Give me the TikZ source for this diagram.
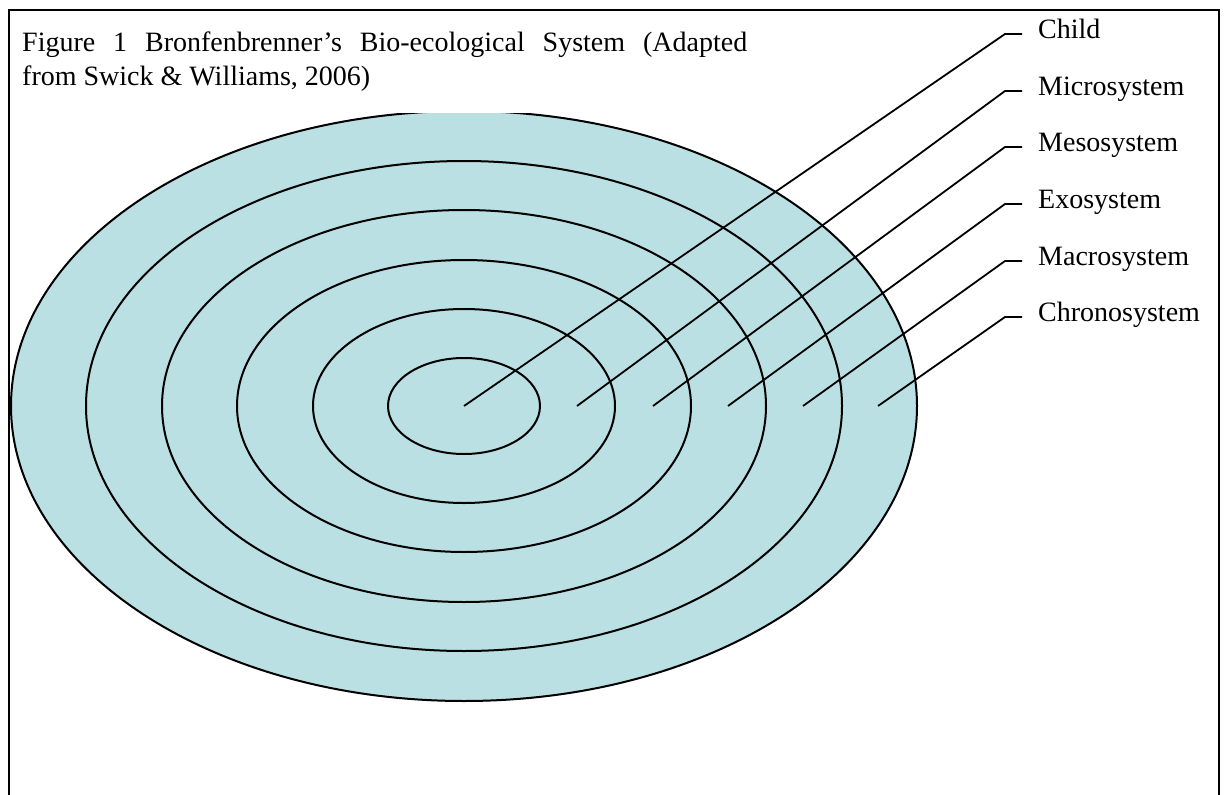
\documentclass[tikz,border=0pt]{standalone}
\usepackage{fontspec}
\setmainfont{Liberation Serif}
\definecolor{ringfill}{RGB}{187,224,227}
\tikzset{
  ring/.style={draw=black, line width=2pt},
  lead/.style={draw=black, line width=1.8pt},
  frameline/.style={draw=black, line width=2.2pt},
  lbl/.style={anchor=base west, inner sep=0pt, font=\fontsize{28}{32}\selectfont},
}
\begin{document}
\begin{tikzpicture}[x=1pt,y=-1pt]
\useasboundingbox (0,0) rectangle (1227,795);
% rings
\fill[ringfill] (464,406) ellipse [x radius=453pt, y radius=295pt];
\foreach \a/\b in {453/295,378/245,302/196,227/146,151/97,76/48}
  \path[ring] (464,406) ellipse [x radius=\a pt, y radius=\b pt];
% anchor points inside rings
\coordinate (p0) at (464,406);
\coordinate (p1) at (577,406);
\coordinate (p2) at (653,406);
\coordinate (p3) at (728,406);
\coordinate (p4) at (803,406);
\coordinate (p5) at (878,406);
% bends and tick ends
\foreach \i/\y in {0/34,1/91,2/147,3/204,4/261,5/317}{
  \coordinate (k\i) at (1005,\y);
  \coordinate (t\i) at (1022,\y);
}
% labels
\node[lbl] (l0) at (1038,38) {Child};
\node[lbl] (l1) at (1038,95) {Microsystem};
\node[lbl] (l2) at (1038,151) {Mesosystem};
\node[lbl] (l3) at (1038,208) {Exosystem};
\node[lbl] (l4) at (1038,265) {Macrosystem};
\node[lbl] (l5) at (1038,321) {Chronosystem};
\foreach \i in {0,...,5}
  \path[lead] (p\i) -- (k\i) -- (t\i);
% title box
\fill[white] (9,10) rectangle (878,112.5);
\node[anchor=base west, inner sep=0pt, align=left, font=\fontsize{28}{34}\selectfont] (title) at (22,85)
  {\makebox[725pt][s]{Figure 1 Bronfenbrenner’s Bio-ecological System (Adapted}\\from Swick \& Williams, 2006)};
% frame
\path[frameline] (9,800) -- (9,10) -- (1219,10) -- (1219,800);
\end{tikzpicture}
\end{document}
